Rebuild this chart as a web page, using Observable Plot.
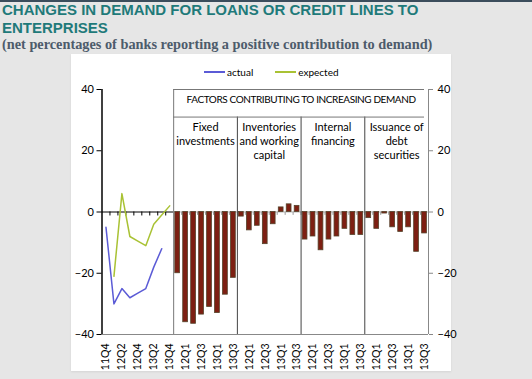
<!DOCTYPE html>
<html>
<head>
<meta charset="utf-8">
<script src="https://cdn.jsdelivr.net/npm/d3@7"></script>
<script src="https://cdn.jsdelivr.net/npm/@observablehq/plot@0.6"></script>
<style>
  html, body { margin: 0; padding: 0; }
  body { width: 532px; height: 379px; background: #e6e6e6; position: relative; overflow: hidden; }
  #topbar { position: absolute; left: 0; top: 0; width: 532px; height: 2px; background: #3b4d5c; }
  .title { position: absolute; left: 2px; font: bold 15px "Liberation Sans", Arial, sans-serif; color: #1f7a7a; line-height: 17px; height: 17px; white-space: nowrap; }
  #subtitle { position: absolute; left: 2px; top: 35.5px; font: bold 14.3px "Liberation Serif", serif; color: #4d5b6b; white-space: nowrap; }
  #card { position: absolute; left: 71px; top: 54px; width: 380px; height: 317px; background: #fff; box-shadow: 0 1px 2px rgba(0,0,0,0.08); }
  #chart { position: absolute; left: 71px; top: 54px; }
  #legend { position: absolute; left: 204px; top: 66px; font: 10px Lato, sans-serif; color: #000; display: flex; align-items: center; white-space: nowrap; }
  #legend .item { display: flex; align-items: center; margin-right: 22px; }
  #legend .sw { display: inline-block; width: 21px; height: 1.5px; margin-right: 2px; }
</style>
</head>
<body>
<div id="topbar"></div>
<div class="title" style="top:0.5px">CHANGES IN DEMAND FOR LOANS OR CREDIT LINES TO</div>
<div class="title" style="top:18.6px">ENTERPRISES</div>
<div id="subtitle">(net percentages of banks reporting a positive contribution to demand)</div>
<div id="card"></div>
<div id="chart"></div>
<div id="legend"></div>
<script>
// ---- data ----
const lineQuarters = ["11Q4","12Q1","12Q2","12Q3","12Q4","13Q1","13Q2","13Q3","13Q4"];
const actual   = [-5, -30, -25, -28, -26.5, -25, -18, -12, null];
const expected = [null, -21, 6, -8, -9.5, -11, -4, -1, 2];
const seriesNames = ["actual", "expected"];
const seriesColors = ["#5b5bd6", "#a9c234"];

const barQuarters = ["11Q4","12Q1","12Q2","12Q3","12Q4","13Q1","13Q2","13Q3"];
const factorNames = ["Fixed\ninvestments", "Inventories\nand working\ncapital", "Internal\nfinancing", "Issuance of\ndebt\nsecurities"];
const fixedInvestments  = [-20, -36, -36.5, -33.5, -31, -33, -27, -21.5];
const inventories       = [-1.5, -6, -4.5, -10.5, -4, 1.5, 2.5, 2];
const internalFinancing = [-9, -8, -12.5, -9, -8, -5.5, -7.5, -7.5];
const debtSecurities    = [-2, -5.5, -0.5, -5, -6.5, -5, -13, -7];
const headerLabel = "FACTORS CONTRIBUTING TO INCREASING DEMAND";
const yTicks = [-40, -20, 0, 20, 40];

// ---- derived tables ----
const factorSeries = [fixedInvestments, inventories, internalFinancing, debtSecurities];
const nL = lineQuarters.length, nB = barQuarters.length;
const total = nL + factorSeries.length * nB;
const lineRows = lineQuarters.map((q, i) => ({i, q, actual: actual[i], expected: expected[i]}));
const barRows = factorSeries.flatMap((s, g) => s.map((v, k) => ({i: nL + g * nB + k, q: barQuarters[k], g, v})));
const allLabels = [...lineQuarters, ...factorSeries.flatMap(() => barQuarters)];
const tickIdx = allLabels.map((_, i) => i).filter(i => i % 2 === 0);
const groupStarts = factorSeries.map((_, g) => nL + g * nB);
const headerBottom = 31;

const W = 400, H = 317;
const chart = Plot.plot({
  width: W, height: H,
  marginLeft: 30.5, marginRight: 43, marginTop: 35, marginBottom: 37,
  x: {type: "linear", domain: [0, total]},
  y: {domain: [-40, 40]},
  style: {fontFamily: "Lato, sans-serif", fontSize: "11px", background: "transparent", color: "#000", overflow: "visible"},
  marks: [
    // zero axis
    Plot.ruleY([0], {x1: 0, x2: nL, stroke: "#000", strokeWidth: 1}),
    Plot.ruleY([0], {x1: nL, x2: total, stroke: "#bbb", strokeWidth: 1}),
    Plot.ruleX(d3.range(1, nL), {x: d => d, y1: 0, y2: -1.3, stroke: "#000"}),
    Plot.ruleX(d3.range(nL + 1, total), {x: d => d, y1: 0, y2: -1.1, stroke: "#999"}),
    // bars
    Plot.rect(barRows, {x1: "i", x2: d => d.i + 1, y1: 0, y2: "v", insetLeft: 1.6, insetRight: 1.6,
      fill: "#7d1f12", stroke: "#54422a", strokeWidth: 0.8}),
    // lines
    Plot.line(lineRows.filter(d => d.actual != null), {x: d => d.i + 0.5, y: "actual", stroke: seriesColors[0], strokeWidth: 1.5}),
    Plot.line(lineRows.filter(d => d.expected != null), {x: d => d.i + 0.5, y: "expected", stroke: seriesColors[1], strokeWidth: 1.5}),
    // panel dividers and header
    Plot.ruleX([nL], {y1: -40, y2: 40, stroke: "#777"}),
    Plot.ruleX(groupStarts.slice(1), {y1: -40, y2: headerBottom, stroke: "#444"}),
    Plot.ruleY([40, headerBottom], {x1: nL, x2: total, insetRight: 4, stroke: "#777"}),
    Plot.text([headerLabel], {x: (nL + total) / 2, y: 36.5, text: d => d, fontSize: 10}),
    Plot.text(factorNames, {x: (d, g) => groupStarts[g] + nB / 2, y: 29.6, text: d => d, lineAnchor: "top", lineHeight: 1.25, fontSize: 11}),
    // frame axes
    Plot.ruleY([-40], {stroke: "#888"}),
    Plot.ruleX([total], {stroke: "#888"}),
    Plot.ruleX([0], {stroke: "#000", strokeWidth: 1.5}),
    Plot.axisY(yTicks, {anchor: "left", tickSize: 5, tickPadding: 3, stroke: "#000", label: null}),
    Plot.axisY(yTicks, {anchor: "right", tickSize: 4, tickPadding: 5, stroke: "#888", label: null}),
    Plot.axisX(tickIdx.map(i => i + 0.5), {anchor: "bottom", tickRotate: -90, tickSize: 0, tickPadding: 9, label: null,
      fontSize: 10.5, tickFormat: v => allLabels[Math.floor(v)]})
  ]
});
d3.select(chart).selectAll("text").filter(function() { return this.textContent === headerLabel; })
  .attr("letter-spacing", "-0.4px");
document.getElementById("chart").appendChild(chart);

// legend
const legend = document.getElementById("legend");
seriesNames.forEach((name, k) => {
  const item = document.createElement("span");
  item.className = "item";
  const sw = document.createElement("span");
  sw.className = "sw";
  sw.style.background = seriesColors[k];
  item.appendChild(sw);
  item.appendChild(document.createTextNode(name));
  legend.appendChild(item);
});
</script>
</body>
</html>
